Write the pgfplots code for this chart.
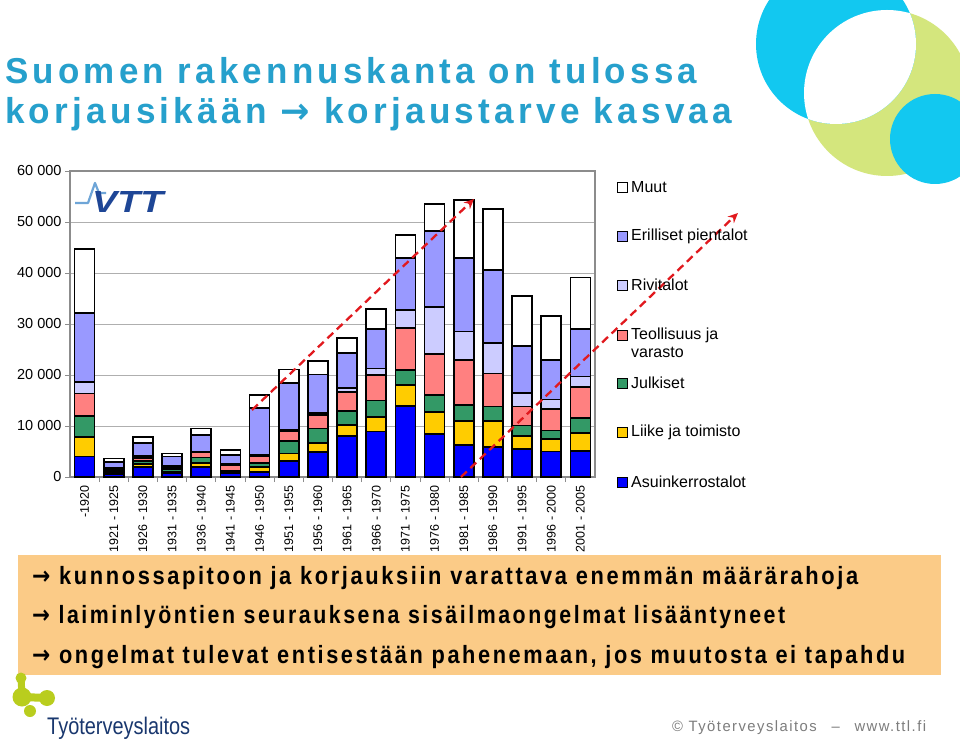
\documentclass[border=0pt]{standalone}
\usepackage{pgfplots}
\pgfplotsset{compat=1.18}
\usepackage{pgfplotstable}
\usepackage{fontspec}
\setmainfont{Liberation Sans}
\newfontfamily\spaced[LetterSpace=12]{Liberation Sans}
\newfontfamily\footfont[LetterSpace=10]{Liberation Sans}
\newfontfamily\arrowfont{DejaVu Sans}
\newcommand\arr{{\arrowfont\bfseries →}}
\usetikzlibrary{arrows.meta}

\definecolor{asuin}{RGB}{0,0,255}
\definecolor{liike}{RGB}{255,204,0}
\definecolor{julk}{RGB}{51,153,102}
\definecolor{teoll}{RGB}{255,128,128}
\definecolor{rivi}{RGB}{204,204,255}
\definecolor{erill}{RGB}{153,153,255}
\definecolor{titleblue}{RGB}{38,160,204}
\definecolor{boxorange}{RGB}{251,203,135}
\definecolor{arrowred}{RGB}{225,25,30}
\definecolor{cyanc}{RGB}{18,200,240}
\definecolor{limec}{RGB}{212,230,125}
\definecolor{logolime}{RGB}{185,205,30}
\definecolor{navy}{RGB}{25,55,110}
\definecolor{vttblue}{RGB}{30,70,150}
\definecolor{vttlight}{RGB}{110,165,215}
\definecolor{footgray}{RGB}{125,125,125}
\definecolor{axisgray}{RGB}{140,140,140}
\definecolor{gridgray}{RGB}{175,175,175}

\pgfplotstableread{
x  asuin liike julk teoll rivi erill muut
1  4000  3900  4100 4400  2200 13600 12500
2  600   300   300  300   200  1300  600
3  1900  600   600  600   400  2600  1100
4  800   300   500  300   300  1800  600
5  1900  900   1000 1000  200  3300  1200
6  700   300   300  1000  200  1800  1000
7  1000  900   900  1300  200  9200  2600
8  3100  1500  2500 1900  200  9200  2700
9  4900  1800  2800 2700  300  7600  2700
10 8000  2200  2800 3600  900  6800  2900
11 8900  2800  3300 5000  1300 7700  3900
12 13900 4100  3000 8200  3500 10200 4600
13 8400  4300  3400 8000  9300 14900 5200
14 6300  4700  3100 8800  5600 14400 11400
15 5900  5100  2800 6500  6000 14300 11900
16 5500  2500  2100 3700  2700 9200  9800
17 5000  2400  1700 4200  1900 7700  8700
18 5100  3500  3000 6000  2100 9300  10100
}\data

\begin{document}
\begin{tikzpicture}[x=1pt,y=1pt]
\fill[white] (0,0) rectangle (960,739);
\path[use as bounding box] (0,0) rectangle (960,739);

% decorative circles
\begin{scope}
\clip (0,0) rectangle (960,739);
\fill[limec] (887,646) circle (83);
\fill[cyanc] (836,695) circle (80);
\begin{scope}
\clip (836,695) circle (80);
\fill[white] (887,646) circle (83);
\end{scope}
\fill[cyanc] (935,600) circle (45);
\end{scope}

% title
\node[anchor=base west, inner sep=0, text=titleblue] at (5,655)
 {\resizebox{692pt}{\height}{\spaced\bfseries\fontsize{36}{40}\selectfont Suomen rakennuskanta on tulossa}};
\node[anchor=base west, inner sep=0, text=titleblue] at (5,615)
 {\resizebox{727pt}{\height}{\spaced\bfseries\fontsize{36}{40}\selectfont korjausikään \arr\ korjaustarve kasvaa}};

\begin{axis}[
  at={(70pt,262pt)}, anchor=south west,
  scale only axis, width=525pt, height=306pt,
  xmin=0.5, xmax=18.5, ymin=0, ymax=60000,
  ybar stacked, bar width=20pt,
  axis line style={axisgray, line width=1.2pt},
  ymajorgrids, grid style={gridgray, line width=0.9pt},
  ytick={0,10000,20000,30000,40000,50000,60000},
  yticklabels={0,10 000,20 000,30 000,40 000,50 000,60 000},
  y tick label style={font=\fontsize{14.5}{17}\selectfont},
  xtick={1,...,18},
  xticklabels={-1920,1921 - 1925,1926 - 1930,1931 - 1935,1936 - 1940,1941 - 1945,1946 - 1950,1951 - 1955,1956 - 1960,1961 - 1965,1966 - 1970,1971 - 1975,1976 - 1980,1981 - 1985,1986 - 1990,1991 - 1995,1996 - 2000,2001 - 2005},
  x tick label style={rotate=90, anchor=east, font=\fontsize{12.5}{15}\selectfont},
  minor xtick={1.5,2.5,...,17.5},
  major x tick style={draw=none},
  tick align=outside, tick pos=left,
  major tick length=5pt, minor tick length=5pt,
  tick style={axisgray, line width=0.9pt},
  scaled y ticks=false,
  every axis plot/.append style={draw=black, line width=1.7pt},
]
\addplot[fill=asuin] table[x=x,y=asuin]{\data};
\addplot[fill=liike] table[x=x,y=liike]{\data};
\addplot[fill=julk] table[x=x,y=julk]{\data};
\addplot[fill=teoll] table[x=x,y=teoll]{\data};
\addplot[fill=rivi] table[x=x,y=rivi]{\data};
\addplot[fill=erill] table[x=x,y=erill]{\data};
\addplot[fill=white] table[x=x,y=muut]{\data};
\end{axis}

% VTT logo
\draw[vttlight, line width=2.2pt, line join=round] (75,536) -- (88,536) -- (95,556) -- (99,546) -- (106,546);
\node[text=vttblue, inner sep=0, anchor=base west] at (92,526)
 {\resizebox{71pt}{21pt}{\bfseries\itshape VTT}};

% red trend arrows
\draw[arrowred, line width=2.3pt, dash pattern=on 8pt off 5pt, -{Stealth[length=10pt,width=9pt]}] (252,329) -- (474,540);
\draw[arrowred, line width=2.3pt, dash pattern=on 8pt off 5pt, -{Stealth[length=10pt,width=9pt]}] (461,262) -- (738,526);

% legend
\begin{scope}[every node/.style={anchor=west, inner sep=0, font=\fontsize{16}{19}\selectfont}]
\draw[black, line width=0.9pt, fill=white] (617,547) rectangle (627,557); \node at (631,552) {Muut};
\draw[black, line width=0.9pt, fill=erill] (617,498) rectangle (627,508); \node at (631,503) {Erilliset pientalot};
\draw[black, line width=0.9pt, fill=rivi] (617,449) rectangle (627,459); \node at (631,454) {Rivitalot};
\draw[black, line width=0.9pt, fill=teoll] (617,399) rectangle (627,409); \node at (631,404) {Teollisuus ja};
\node at (631,387) {varasto};
\draw[black, line width=0.9pt, fill=julk] (617,351) rectangle (627,361); \node at (631,356) {Julkiset};
\draw[black, line width=0.9pt, fill=liike] (617,302) rectangle (627,312); \node at (631,307) {Liike ja toimisto};
\draw[black, line width=0.9pt, fill=asuin] (617,252) rectangle (627,262); \node at (631,257) {Asuinkerrostalot};
\end{scope}

% orange box
\fill[boxorange] (18,64) rectangle (941,184);
\node[anchor=base west, inner sep=0] at (32,155)
 {\resizebox{826pt}{\height}{\spaced\bfseries\fontsize{25}{28}\selectfont \arr\ kunnossapitoon ja korjauksiin varattava enemmän määrärahoja}};
\node[anchor=base west, inner sep=0] at (32,116)
 {\resizebox{753pt}{\height}{\spaced\bfseries\fontsize{25}{28}\selectfont \arr\ laiminlyöntien seurauksena sisäilmaongelmat lisääntyneet}};
\node[anchor=base west, inner sep=0] at (32,76)
 {\resizebox{873pt}{\height}{\spaced\bfseries\fontsize{25}{28}\selectfont \arr\ ongelmat tulevat entisestään pahenemaan, jos muutosta ei tapahdu}};

% Tyoterveyslaitos logo
\fill[logolime] (21,61) circle (5.5);
\draw[logolime, line width=7pt, line cap=round] (21,61) -- (22,44);
\fill[logolime] (22,42) circle (9.5);
\draw[logolime, line width=8pt, line cap=round] (22,42) -- (47,41);
\fill[logolime] (47,41) circle (8);
\fill[logolime] (30,28) circle (6);
\node[anchor=base west, inner sep=0, text=navy] at (47,5)
 {\resizebox{143pt}{\height}{\fontsize{24}{28}\selectfont Työterveyslaitos}};

% footer
\node[anchor=base west, inner sep=0, text=footgray] at (672,8)
 {\resizebox{254pt}{\height}{\footfont\fontsize{15}{18}\selectfont © Työterveyslaitos\quad –\quad www.ttl.fi}};
\end{tikzpicture}
\end{document}
